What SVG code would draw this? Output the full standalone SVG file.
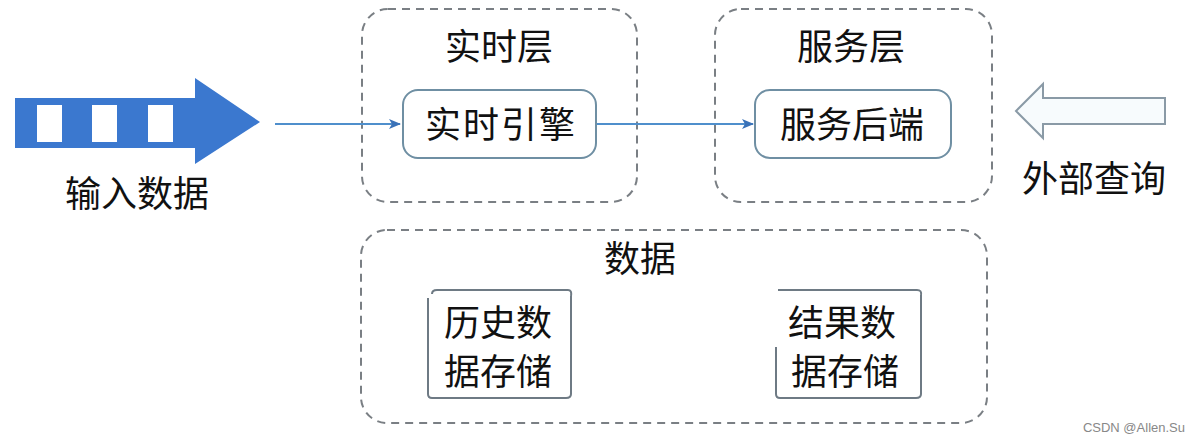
<svg xmlns="http://www.w3.org/2000/svg" width="1200" height="440" viewBox="0 0 1200 440">
<defs>
<style>
.grp{fill:none;stroke:#7a7f84;stroke-width:2;stroke-dasharray:8 6}
.node{fill:#fff;stroke:#6f8fa3;stroke-width:2}
.store{fill:none;stroke:#6e7a84;stroke-width:2}
.t{font-family:"Noto Sans CJK SC","Noto Sans",sans-serif;font-size:36px;fill:#111;text-anchor:middle}
.edge{fill:none;stroke:#4f8fcc;stroke-width:2}
</style>
<marker id="ah" markerWidth="12" markerHeight="10" refX="11" refY="5" orient="auto" markerUnits="userSpaceOnUse">
<path d="M0,0 L12,5 L0,10 L3,5 Z" fill="#3a72b8"/>
</marker>
</defs>
<rect width="1200" height="440" fill="#fff"/>

<g id="input">
<path d="M15,98 H195 V78 L260,122 L195,164 V148 H15 Z" fill="#3b78cf"/>
<rect x="37" y="105" width="25" height="37" fill="#fff"/>
<rect x="92" y="105" width="25" height="37" fill="#fff"/>
<rect x="148" y="105" width="25" height="37" fill="#fff"/>
<text class="t" x="137" y="207">输入数据</text>
</g>

<g id="realtime-layer">
<rect class="grp" x="362" y="9" width="275" height="193" rx="26"/>
<text class="t" x="499" y="60">实时层</text>
</g>
<g id="realtime-engine">
<rect class="node" x="403" y="90" width="193" height="68" rx="15"/>
<text class="t" x="501" y="138" letter-spacing="2">实时引擎</text>
</g>

<g id="service-layer">
<rect class="grp" x="715" y="9" width="277" height="193" rx="26"/>
<text class="t" x="851" y="60">服务层</text>
</g>
<g id="service-backend">
<rect class="node" x="755" y="90" width="196" height="68" rx="15"/>
<text class="t" x="852" y="138">服务后端</text>
</g>

<g id="external-query">
<path d="M1165,98 H1043 V84 L1016,111 L1043,138 V124 H1165 Z" fill="#f7fbfd" stroke="#8a9aa6" stroke-width="2"/>
<text class="t" x="1094" y="192">外部查询</text>
</g>

<g id="data-layer">
<rect class="grp" x="361" y="230" width="626" height="193" rx="26"/>
<text class="t" x="640" y="272">数据</text>
</g>
<g id="history-store">
<path class="store" d="M432,294 Q432,290 437,290 H568 Q572,290 571,296 M571,296 V394 Q571,398 566,398 H432 Q428,398 428,394 V298"/>
<text class="t" x="498" y="336">历史数</text>
<text class="t" x="498" y="385">据存储</text>
</g>
<g id="result-store">
<path class="store" d="M778,290 H917 Q922,290 921,295 M921,295 V394 Q921,398 916,398 H780 Q776,398 776,394 V347"/>
<text class="t" x="842" y="336">结果数</text>
<text class="t" x="845" y="385">据存储</text>
</g>

<g id="connectors">
<line class="edge" x1="275" y1="124" x2="400" y2="124" marker-end="url(#ah)"/>
<line class="edge" x1="597" y1="124" x2="753" y2="124" marker-end="url(#ah)"/>
</g>

<text x="1185" y="432" font-family="Liberation Sans,Arial,sans-serif" font-size="13" fill="#888" text-anchor="end">CSDN @Allen.Su</text>
</svg>
